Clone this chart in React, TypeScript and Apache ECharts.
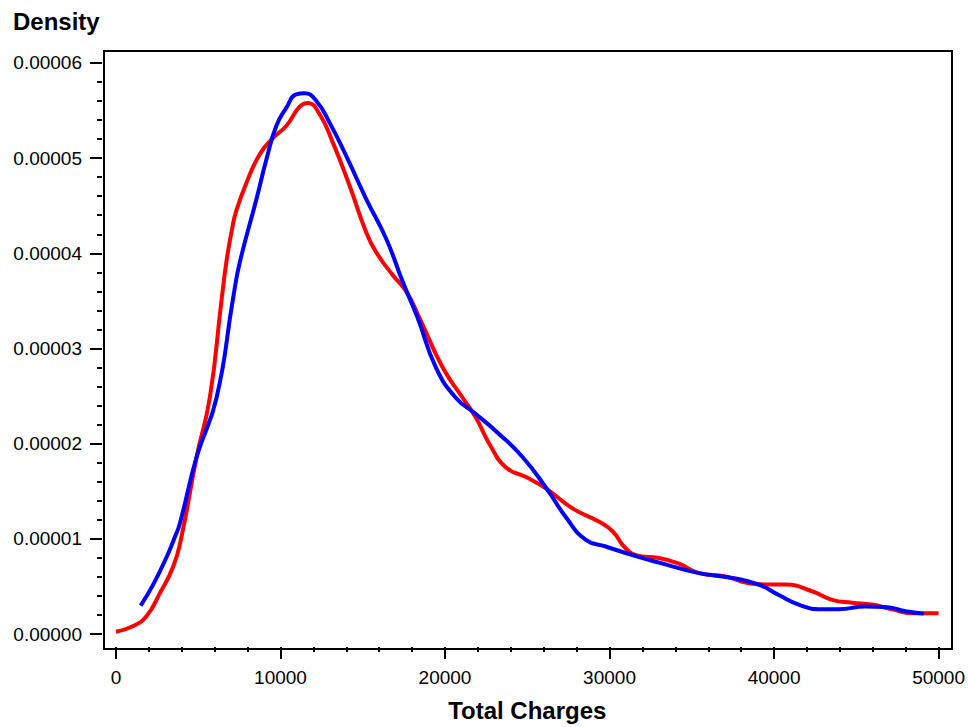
import React, { useEffect, useRef } from "react";
import * as echarts from "echarts";

// Kernel density estimates of total charges for two groups
const redCharges = [
  0, 1050, 1860, 2670, 3480, 3980, 4900, 5700, 6410, 6720, 7050, 7320, 7930,
  8740, 9540, 10360, 11165, 11670, 12380, 13190, 14200, 15210, 15820, 16830,
  17640, 18450, 19860, 21080, 21890, 22690, 23710, 24920, 26130, 27750, 29370,
  30180, 30990, 31800, 33010, 34220, 35440, 37060, 38470, 39680, 40700, 42310,
  43530, 44740, 45950, 47170, 48380, 50000,
];
const redDensity = [
  0.25e-6, 0.85e-6, 1.9e-6, 4.3e-6, 7.1e-6, 10.2e-6, 18.6e-6, 24.8e-6, 35.0e-6,
  39.2e-6, 42.5e-6, 44.5e-6, 47.4e-6, 50.4e-6, 52.1e-6, 53.4e-6, 55.4e-6,
  55.8e-6, 54.6e-6, 51.6e-6, 47.1e-6, 42.2e-6, 40.1e-6, 37.7e-6, 36.0e-6,
  33.2e-6, 28.0e-6, 24.8e-6, 22.7e-6, 20.0e-6, 17.5e-6, 16.5e-6, 15.3e-6,
  13.2e-6, 11.8e-6, 10.8e-6, 9.0e-6, 8.2e-6, 8.0e-6, 7.4e-6, 6.4e-6, 6.05e-6,
  5.35e-6, 5.2e-6, 5.2e-6, 4.5e-6, 3.6e-6, 3.3e-6, 3.1e-6, 2.6e-6, 2.2e-6,
  2.2e-6,
];

const blueCharges = [
  1500, 2260, 3080, 3580, 3880, 4900, 6110, 7120, 7520, 8540, 9150, 9750,
  10360, 10960, 11470, 12180, 12990, 14000, 15210, 16430, 17430, 18340, 19450,
  20670, 21890, 23300, 24710, 26130, 27340, 28560, 29770, 31390, 33010, 35440,
  37460, 39080, 40290, 41500, 42720, 43930, 45550, 46760, 47980, 49090,
];
const blueDensity = [
  3.0e-6, 5.2e-6, 8.1e-6, 10.2e-6, 11.6e-6, 18.6e-6, 24.8e-6, 35.3e-6, 39.0e-6,
  45.7e-6, 49.9e-6, 53.4e-6, 55.3e-6, 56.7e-6, 56.8e-6, 56.0e-6, 53.7e-6,
  50.2e-6, 45.7e-6, 41.5e-6, 37.0e-6, 33.2e-6, 28.0e-6, 24.8e-6, 23.1e-6,
  21.0e-6, 18.6e-6, 15.4e-6, 12.3e-6, 9.9e-6, 9.2e-6, 8.3e-6, 7.5e-6, 6.4e-6,
  5.9e-6, 5.2e-6, 4.1e-6, 3.1e-6, 2.6e-6, 2.6e-6, 2.9e-6, 2.85e-6, 2.4e-6,
  2.15e-6,
];

// Tick labels
const xTickLabels = [0, 10000, 20000, 30000, 40000, 50000];
const yTickLabels = [0, 0.00001, 0.00002, 0.00003, 0.00004, 0.00005, 0.00006];
const minorPerMajor = 5;

// Axis extents: the tick axes sit 2px outside the plot frame, and the
// data range is padded inside the frame on every side.
const xAxisMin = -849.5;
const xAxisMax = 50849.5;
const yAxisMin = -0.0000013565;
const yAxisMax = 0.000061461;

const FONT = '"Liberation Sans", Arial, Helvetica, sans-serif';

const pairs = (xs: number[], ys: number[]) => xs.map((x, i) => [x, ys[i]]);

const minorValues = (majors: number[]) => {
  const out: number[] = [];
  for (let i = 0; i < majors.length - 1; i++) {
    const step = (majors[i + 1] - majors[i]) / minorPerMajor;
    for (let k = 1; k < minorPerMajor; k++) out.push(majors[i] + step * k);
  }
  return out;
};

export default function App() {
  const ref = useRef<HTMLDivElement>(null);

  useEffect(() => {
    if (!ref.current) return;
    const chart = echarts.init(ref.current, null, { renderer: "svg" });

    const tickStyle = { color: "#000", width: 2 };
    const labelStyle = { fontFamily: FONT, fontSize: 19, color: "#000" };
    // axes stay on the grid edge instead of crossing at zero
    const hiddenLine = { show: false, onZero: false };

    chart.setOption({
      animation: false,
      backgroundColor: "#fff",
      title: {
        text: "Density",
        left: 8,
        top: 4,
        textStyle: {
          fontFamily: FONT,
          fontSize: 24,
          fontWeight: "bold",
          color: "#000",
        },
      },
      grid: [
        // plot frame
        {
          left: 104,
          top: 51,
          right: 16,
          bottom: 78,
          show: true,
          borderColor: "#000",
          borderWidth: 2,
          backgroundColor: "#fff",
        },
        // axes and data
        {
          left: 102,
          top: 49,
          right: 14,
          bottom: 76,
        },
      ],
      xAxis: [
        { gridIndex: 0, type: "value", min: 0, max: 1, show: false },
        {
          gridIndex: 1,
          type: "value",
          position: "bottom",
          min: xAxisMin,
          max: xAxisMax,
          name: "Total Charges",
          nameLocation: "middle",
          nameGap: 51,
          nameTextStyle: {
            fontFamily: FONT,
            fontSize: 24,
            fontWeight: "bold",
            color: "#000",
          },
          axisLine: hiddenLine,
          axisTick: {
            show: true,
            inside: false,
            length: 12,
            lineStyle: tickStyle,
            customValues: xTickLabels,
          },
          minorTick: { show: false },
          splitLine: { show: false },
          axisLabel: {
            ...labelStyle,
            margin: 21,
            customValues: xTickLabels,
            formatter: (v: number) => String(v),
          },
        },
        {
          gridIndex: 1,
          type: "value",
          position: "bottom",
          min: xAxisMin,
          max: xAxisMax,
          axisLine: hiddenLine,
          axisTick: {
            show: true,
            inside: false,
            length: 5,
            lineStyle: tickStyle,
            customValues: minorValues(xTickLabels),
          },
          splitLine: { show: false },
          axisLabel: { show: false },
        },
      ],
      yAxis: [
        { gridIndex: 0, type: "value", min: 0, max: 1, show: false },
        {
          gridIndex: 1,
          type: "value",
          position: "left",
          min: yAxisMin,
          max: yAxisMax,
          axisLine: hiddenLine,
          axisTick: {
            show: true,
            inside: false,
            length: 12,
            lineStyle: tickStyle,
            customValues: yTickLabels,
          },
          minorTick: { show: false },
          splitLine: { show: false },
          axisLabel: {
            ...labelStyle,
            margin: 20,
            customValues: yTickLabels,
            formatter: (v: number) => v.toFixed(5),
          },
        },
        {
          gridIndex: 1,
          type: "value",
          position: "left",
          min: yAxisMin,
          max: yAxisMax,
          axisLine: hiddenLine,
          axisTick: {
            show: true,
            inside: false,
            length: 5,
            lineStyle: tickStyle,
            customValues: minorValues(yTickLabels),
          },
          splitLine: { show: false },
          axisLabel: { show: false },
        },
      ],
      series: [
        {
          type: "line",
          xAxisIndex: 1,
          yAxisIndex: 1,
          data: pairs(redCharges, redDensity),
          showSymbol: false,
          symbol: "none",
          smooth: 0.5,
          clip: false,
          lineStyle: { color: "#ff0000", width: 4 },
          z: 3,
        },
        {
          type: "line",
          xAxisIndex: 1,
          yAxisIndex: 1,
          data: pairs(blueCharges, blueDensity),
          showSymbol: false,
          symbol: "none",
          smooth: 0.5,
          clip: false,
          lineStyle: { color: "#0000ff", width: 4 },
          z: 4,
        },
      ],
    });

    return () => chart.dispose();
  }, []);

  return (
    <div
      ref={ref}
      style={{ position: "absolute", left: 0, top: 0, width: 968, height: 727 }}
    />
  );
}
